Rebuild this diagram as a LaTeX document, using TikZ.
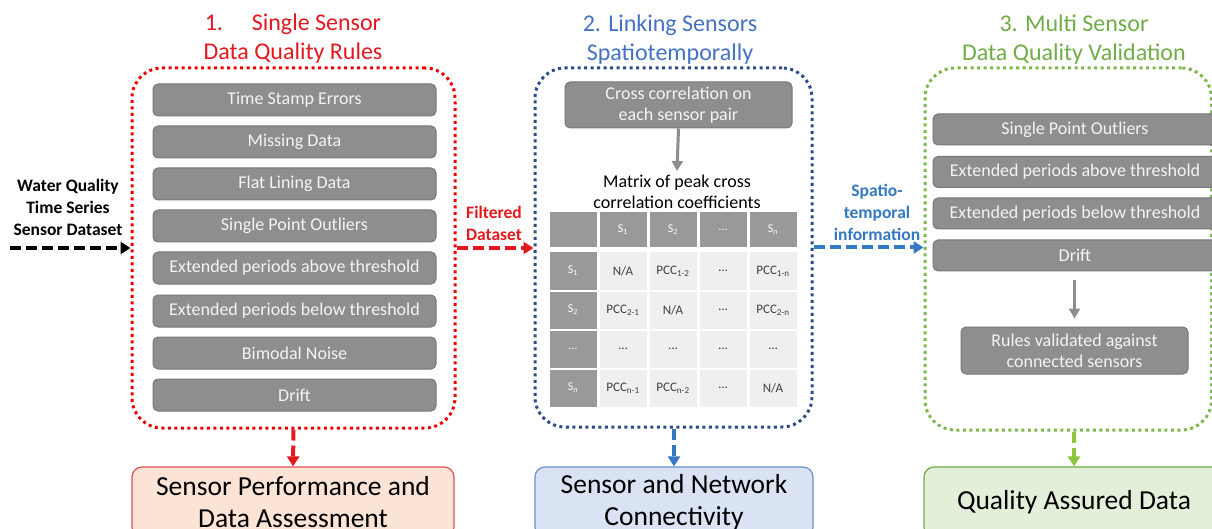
\documentclass[tikz,border=0pt]{standalone}
\usepackage{fontspec}
\setmainfont{Carlito}
\usetikzlibrary{arrows.meta}
\definecolor{tRed}{HTML}{E3191F}
\definecolor{tBlue}{HTML}{4472C4}
\definecolor{tGreen}{HTML}{70AD47}
\definecolor{dRed}{HTML}{F00000}
\definecolor{dBlue}{HTML}{2F4A8A}
\definecolor{dGreen}{HTML}{7DB84A}
\definecolor{aBlue}{HTML}{3478C2}
\definecolor{aGreen}{HTML}{8DC63F}
\definecolor{bxGray}{HTML}{8E8E8E}
\definecolor{bxLine}{HTML}{777777}
\definecolor{bxText}{HTML}{F4F4F4}
\definecolor{cellLight}{HTML}{EFEFEF}
\definecolor{cellDark}{HTML}{999999}
\definecolor{cellText}{HTML}{404040}
\definecolor{fRed}{HTML}{FBE3D6}
\definecolor{lRed}{HTML}{E05252}
\definecolor{fBlue}{HTML}{DAE3F3}
\definecolor{lBlue}{HTML}{6A8FD0}
\definecolor{fGreen}{HTML}{E2F0D9}
\definecolor{lGreen}{HTML}{70AD47}
\begin{document}
\begin{tikzpicture}[x=1pt,y=-1pt,
  graybox/.style={draw=bxLine, line width=1, fill=bxGray, rounded corners=5, text=bxText,
    minimum width=283, minimum height=32, inner sep=0, font=\fontsize{18}{21}\selectfont, align=center},
  frame/.style={line width=3, dash pattern=on 3 off 3.5, rounded corners=30, inner sep=0},
  title/.style={font=\fontsize{24}{29}\selectfont, align=center},
  sidelabel/.style={font=\bfseries\fontsize{17.5}{22}\selectfont, align=center},
  dasharrow/.style={line width=4, dash pattern=on 11 off 5, -{Triangle[length=10,width=12]}},
  grayarrow/.style={draw=bxGray, line width=3, -{Triangle[length=10,width=11]}},
  outbox/.style={line width=1.2, rounded corners=10, minimum height=70, inner sep=0,
    font=\fontsize{27.5}{32}\selectfont, align=center},
  hcell/.style={fill=cellDark, text=white, minimum width=47, minimum height=35, inner sep=0, font=\fontsize{12}{13}\selectfont},
  dcell/.style={fill=cellLight, text=cellText, minimum width=47, minimum height=37, inner sep=0, font=\fontsize{13}{14}\selectfont},
  kcell/.style={fill=cellDark, text=white, minimum width=47, minimum height=37, inner sep=0, font=\fontsize{12}{13}\selectfont}
]
\useasboundingbox (0,0) rectangle (1212,529);
\clip (0,0) rectangle (1212,529);
\fill[white] (0,0) rectangle (1212,529);

% titles
\node[title, text=tRed] (t1) at (293,39) {1.\hspace{0.9em} Single Sensor\\Data Quality Rules};
\node[title, text=tBlue] (t2) at (670,40) {2. Linking Sensors\\Spatiotemporally};
\node[title, text=tGreen] (t3) at (1074,40) {3. Multi Sensor\\Data Quality Validation};

% frames
\node[frame, draw=dRed, minimum width=323, minimum height=360] (f1) at (293.5,248) {};
\node[frame, draw=dBlue, minimum width=277, minimum height=359] (f2) at (673.5,247.5) {};
\node[frame, draw=dGreen, minimum width=286.5, minimum height=362] (f3) at (1068.25,249) {};

% column 1 boxes
\node[graybox] (a1) at (294.5,100) {Time Stamp Errors};
\node[graybox] (a2) at (294.5,142) {Missing Data};
\node[graybox] (a3) at (294.5,184) {Flat Lining Data};
\node[graybox] (a4) at (294.5,226) {Single Point Outliers};
\node[graybox] (a5) at (294.5,268) {Extended periods above threshold};
\node[graybox] (a6) at (294.5,311) {Extended periods below threshold};
\node[graybox] (a7) at (294.5,353) {Bimodal Noise};
\node[graybox] (a8) at (294.5,395) {Drift};

% column 2
\node[graybox, minimum width=227, minimum height=46, font=\fontsize{18}{21}\selectfont] (cc) at (678.5,105) {Cross correlation on\\each sensor pair};
\node[font=\fontsize{18}{21}\selectfont, align=center, inner sep=0] (mx) at (677,192) {Matrix of peak cross\\correlation coefficients};
\draw[grayarrow] (cc.south) -- ([yshift=4pt]mx.north);

% table
\node[hcell] (h0) at (573,230) {};
\node[hcell] (h1) at (623,230) {S\textsubscript{1}};
\node[hcell] (h2) at (673,230) {S\textsubscript{2}};
\node[hcell] (h3) at (723,230) {…};
\node[hcell] (h4) at (773,230) {S\textsubscript{n}};

\node[kcell] (r1c0) at (573,271) {S\textsubscript{1}};
\node[dcell] (r1c1) at (623,271) {N/A};
\node[dcell] (r1c2) at (673,271) {PCC\textsubscript{1-2}};
\node[dcell] (r1c3) at (723,271) {…};
\node[dcell] (r1c4) at (773,271) {PCC\textsubscript{1-n}};

\node[kcell] (r2c0) at (573,310) {S\textsubscript{2}};
\node[dcell] (r2c1) at (623,310) {PCC\textsubscript{2-1}};
\node[dcell] (r2c2) at (673,310) {N/A};
\node[dcell] (r2c3) at (723,310) {…};
\node[dcell] (r2c4) at (773,310) {PCC\textsubscript{2-n}};

\node[kcell] (r3c0) at (573,349) {…};
\node[dcell] (r3c1) at (623,349) {…};
\node[dcell] (r3c2) at (673,349) {…};
\node[dcell] (r3c3) at (723,349) {…};
\node[dcell] (r3c4) at (773,349) {…};

\node[kcell] (r4c0) at (573,388) {S\textsubscript{n}};
\node[dcell] (r4c1) at (623,388) {PCC\textsubscript{n-1}};
\node[dcell] (r4c2) at (673,388) {PCC\textsubscript{n-2}};
\node[dcell] (r4c3) at (723,388) {…};
\node[dcell] (r4c4) at (773,388) {N/A};

% column 3
\node[graybox, minimum width=284, minimum height=31] (g1) at (1075,129.5) {Single Point Outliers};
\node[graybox, minimum width=284, minimum height=31] (g2) at (1075,172) {Extended periods above threshold};
\node[graybox, minimum width=284, minimum height=31] (g3) at (1075,213.5) {Extended periods below threshold};
\node[graybox, minimum width=284, minimum height=31] (g4) at (1075,255.5) {Drift};
\node[graybox, minimum width=227, minimum height=47, font=\fontsize{18}{21}\selectfont] (rv) at (1074.5,350.5) {Rules validated against\\connected sensors};
\draw[grayarrow] ([yshift=-8pt]g4.south -| rv.north) -- ([yshift=8pt]rv.north);

% side labels
\node[sidelabel] (inl) at (68,207) {Water Quality\\Time Series\\Sensor Dataset};
\coordinate (src) at (10,248);
\node[sidelabel, text=tRed] (fl) at (494,223) {Filtered\\Dataset};
\node[sidelabel, text=aBlue] (sl) at (877,212) {Spatio-\\temporal\\information};

% horizontal arrows
\draw[dasharrow, black] (src) -- (f1.west);
\draw[dasharrow, tRed] (f1.east) -- (f1.east -| f2.west);
\draw[dasharrow, aBlue] (f2.east) -- (f2.east -| f3.west);

% output boxes
\node[outbox, draw=lRed, fill=fRed, minimum width=322, text depth=0pt] (o1) at (293,502) {Sensor Performance and\\Data Assessment};
\node[outbox, draw=lBlue, fill=fBlue, minimum width=278] (o2) at (674,502) {Sensor and Network\\Connectivity};
\node[outbox, draw=lGreen, fill=fGreen, minimum width=300] (o3) at (1074,502) {Quality Assured Data};

\draw[dasharrow, tRed] (f1.south) -- (o1.north);
\draw[dasharrow, aBlue] (o2.north |- f2.south) -- (o2.north);
\draw[dasharrow, aGreen] (o3.north |- f3.south) -- (o3.north);
\end{tikzpicture}
\end{document}
